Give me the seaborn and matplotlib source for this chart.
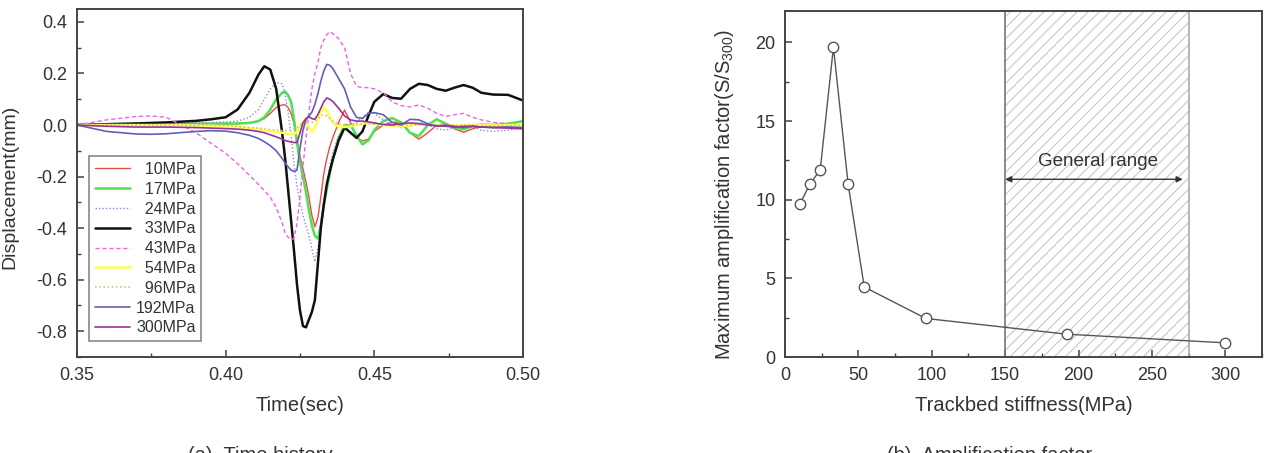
import numpy as np
import pandas as pd
import matplotlib
matplotlib.use("Agg")
import matplotlib.pyplot as plt
from matplotlib.ticker import MultipleLocator, FormatStrFormatter
import seaborn as sns

# ---------------- data: (a) time history ----------------
time_s = [0.350, 0.360, 0.370, 0.375, 0.380, 0.390, 0.395, 0.400,
          0.404, 0.408, 0.411, 0.413, 0.415, 0.417, 0.419,
          0.420, 0.421, 0.422, 0.423, 0.424, 0.425, 0.426, 0.427, 0.428,
          0.429, 0.430, 0.431, 0.432, 0.433, 0.434, 0.435, 0.436,
          0.438, 0.440, 0.442, 0.444, 0.446, 0.448, 0.450,
          0.453, 0.456, 0.459, 0.462, 0.465, 0.468, 0.471, 0.474, 0.477,
          0.480, 0.483, 0.486, 0.490, 0.495, 0.500]

d10 = [0.0, 0.0, 0.0, 0.0, 0.0, 0.002, 0.003, 0.004,
       0.005, 0.008, 0.015, 0.025, 0.045, 0.068, 0.078,
       0.078, 0.068, 0.045, 0.005, -0.055, -0.12, -0.17, -0.22, -0.28,
       -0.35, -0.395, -0.36, -0.28, -0.19, -0.13, -0.085, -0.05,
       0.01, 0.058, 0.01, -0.05, -0.062, -0.055, -0.025,
       0.0, 0.01, 0.012, -0.03, -0.055, -0.03, 0.0, 0.005, -0.015,
       -0.028, -0.015, -0.005, -0.005, -0.008, -0.01]
d17 = [0.003, 0.003, 0.004, 0.004, 0.004, 0.005, 0.005, 0.006,
       0.006, 0.008, 0.015, 0.03, 0.06, 0.1, 0.125,
       0.13, 0.115, 0.09, 0.02, -0.07, -0.145, -0.2, -0.26, -0.33,
       -0.39, -0.43, -0.44, -0.39, -0.31, -0.25, -0.19, -0.135,
       -0.05, 0.0, 0.0, -0.04, -0.075, -0.06, -0.02,
       0.015, 0.027, 0.01, -0.03, -0.043, 0.0, 0.022, 0.005, -0.01,
       -0.017, -0.005, 0.002, 0.0, 0.005, 0.015]
d24 = [0.0, 0.0, 0.002, 0.003, 0.005, 0.008, 0.01, 0.012,
       0.015, 0.03, 0.06, 0.1, 0.14, 0.165, 0.16,
       0.12, 0.05, -0.04, -0.15, -0.24, -0.3, -0.35, -0.39, -0.43,
       -0.48, -0.53, -0.48, -0.38, -0.3, -0.23, -0.16, -0.11,
       -0.04, -0.02, 0.0, 0.01, 0.03, 0.05, 0.045,
       0.02, 0.0, -0.01, -0.005, 0.01, 0.0, -0.015, -0.02, -0.01,
       0.0, -0.005, -0.02, -0.025, -0.02, -0.01]
d33 = [0.0, 0.003, 0.006, 0.008, 0.010, 0.016, 0.022, 0.030,
       0.060, 0.125, 0.195, 0.228, 0.215, 0.140, -0.030,
       -0.130, -0.250, -0.370, -0.490, -0.620, -0.720, -0.780, -0.785, -0.755,
       -0.725, -0.680, -0.540, -0.400, -0.310, -0.230, -0.180, -0.135,
       -0.060, -0.010, -0.030, -0.050, -0.025, 0.035, 0.090,
       0.120, 0.105, 0.102, 0.140, 0.160, 0.155, 0.140, 0.133, 0.145,
       0.155, 0.145, 0.125, 0.118, 0.117, 0.095]
d43 = [0.0, 0.02, 0.033, 0.035, 0.03, -0.03, -0.07, -0.11,
       -0.15, -0.195, -0.23, -0.255, -0.28, -0.32, -0.38,
       -0.42, -0.435, -0.445, -0.44, -0.38, -0.28, -0.16, -0.05, 0.05,
       0.14, 0.2, 0.24, 0.3, 0.33, 0.35, 0.362, 0.355,
       0.335, 0.3, 0.2, 0.15, 0.145, 0.145, 0.14,
       0.125, 0.09, 0.075, 0.07, 0.078, 0.065, 0.045, 0.033, 0.04,
       0.045, 0.03, 0.02, 0.01, 0.005, 0.0]
d54 = [0.0, 0.0, 0.0, 0.0, 0.0, -0.002, -0.003, -0.005,
       -0.008, -0.012, -0.016, -0.02, -0.023, -0.026, -0.03,
       -0.032, -0.034, -0.036, -0.035, -0.025, -0.005, 0.015, 0.01, -0.01,
       -0.025, -0.01, 0.02, 0.05, 0.068, 0.055, 0.03, 0.01,
       -0.008, -0.008, -0.005, 0.0, 0.005, 0.008, 0.005,
       0.0, -0.003, -0.005, -0.002, 0.002, 0.003, 0.0, -0.003, -0.002,
       0.0, 0.002, 0.0, -0.002, 0.0, 0.0]
d96 = [0.0, 0.0, 0.0, 0.0, 0.0, 0.0, 0.0, -0.002,
       -0.005, -0.01, -0.012, -0.015, -0.018, -0.02, -0.022,
       -0.022, -0.02, -0.018, -0.015, -0.01, 0.0, 0.01, 0.015, 0.012,
       0.01, 0.015, 0.025, 0.035, 0.04, 0.035, 0.025, 0.015,
       0.005, 0.0, 0.0, 0.002, 0.004, 0.004, 0.002,
       0.0, -0.002, -0.003, 0.0, 0.002, 0.002, 0.0, -0.002, -0.002,
       0.0, 0.0, -0.002, -0.003, -0.002, 0.0]
d192 = [0.0, -0.025, -0.035, -0.036, -0.034, -0.025, -0.022, -0.024,
        -0.03, -0.04, -0.052, -0.065, -0.08, -0.1, -0.13,
        -0.148, -0.162, -0.175, -0.18, -0.175, -0.09, -0.02, 0.02, 0.035,
        0.05, 0.08, 0.12, 0.17, 0.21, 0.235, 0.232, 0.22,
        0.18, 0.14, 0.07, 0.03, 0.025, 0.045, 0.048,
        0.04, 0.01, 0.0, 0.022, 0.02, 0.005, -0.005, 0.0, -0.005,
        -0.01, -0.005, -0.008, -0.01, -0.008, -0.01]
d300 = [0.0, -0.005, -0.008, -0.008, -0.008, -0.01, -0.012, -0.014,
        -0.016, -0.02, -0.025, -0.03, -0.038, -0.046, -0.055,
        -0.06, -0.063, -0.066, -0.068, -0.068, -0.03, 0.008, 0.025, 0.032,
        0.025, 0.022, 0.04, 0.065, 0.09, 0.105, 0.1, 0.092,
        0.065, 0.035, 0.02, 0.015, 0.015, 0.012, 0.008,
        0.002, 0.0, 0.005, 0.008, 0.005, 0.0, -0.003, -0.005, -0.008,
        -0.005, -0.005, -0.008, -0.01, -0.012, -0.015]

series_labels = ["10MPa", "17MPa", "24MPa", "33MPa", "43MPa",
                 "54MPa", "96MPa", "192MPa", "300MPa"]
series_values = [d10, d17, d24, d33, d43, d54, d96, d192, d300]

# ---------------- data: (b) amplification factor ----------------
stiffness = [10, 17, 24, 33, 43, 54, 96, 192, 300]
amp_factor = [9.7, 11.0, 11.9, 19.7, 11.0, 4.45, 2.45, 1.45, 0.9]
range_lo, range_hi = 150, 275

# ---------------- styles ----------------
styles = [
    dict(color="#f04848", lw=1.0, ls="-"),
    dict(color="#50e050", lw=1.8, ls="-"),
    dict(color="#8a8ae0", lw=1.0, ls=(0, (1, 1.5))),
    dict(color="#111111", lw=1.8, ls="-"),
    dict(color="#f060f0", lw=1.0, ls=(0, (3, 2))),
    dict(color="#ffff50", lw=1.8, ls="-"),
    dict(color="#c8c890", lw=1.2, ls=(0, (1, 1.5))),
    dict(color="#6060b8", lw=1.2, ls="-"),
    dict(color="#993399", lw=1.2, ls="-"),
]

sns.set_theme(style="ticks")
plt.rcParams["font.family"] = ["Liberation Sans", "DejaVu Sans"]
plt.rcParams["mathtext.fontset"] = "custom"
plt.rcParams["mathtext.rm"] = "Liberation Sans"
plt.rcParams["hatch.linewidth"] = 0.8
plt.rcParams["hatch.color"] = "#c8c8c8"

fig = plt.figure(figsize=(12.73, 4.53), dpi=100)
ax1 = fig.add_axes([77 / 1273, 96 / 453, 446 / 1273, 348 / 453])
ax2 = fig.add_axes([785 / 1273, 96 / 453, 477 / 1273, 346 / 453])

txt_color = "#333333"
spine_color = "#444444"

# right-align legend labels by padding with figure spaces
maxlen = max(len(s) for s in series_labels)
for lab, vals, st in zip(series_labels, series_values, styles):
    df = pd.DataFrame({"t": time_s, "d": vals})
    padded = "\u2007" * (maxlen - len(lab)) + lab
    sns.lineplot(data=df, x="t", y="d", ax=ax1, color=st["color"],
                 linewidth=st["lw"], linestyle=st["ls"], label=padded,
                 estimator=None, sort=False)

ax1.set_xlim(0.35, 0.50)
ax1.set_ylim(-0.9, 0.45)
ax1.xaxis.set_major_locator(MultipleLocator(0.05))
ax1.xaxis.set_minor_locator(MultipleLocator(0.025))
ax1.yaxis.set_major_locator(MultipleLocator(0.2))
ax1.yaxis.set_minor_locator(MultipleLocator(0.1))
ax1.xaxis.set_major_formatter(FormatStrFormatter("%.2f"))
ax1.yaxis.set_major_formatter(FormatStrFormatter("%.1f"))
ax1.set_xlabel("Time(sec)", fontsize=14.5, color=txt_color, labelpad=9)
ax1.set_ylabel("Displacement(mm)", fontsize=14, color=txt_color)
ax1.yaxis.set_label_coords(-0.132, 0.49)

leg = ax1.legend(loc="lower left", bbox_to_anchor=(0.027, 0.046),
                 borderaxespad=0, fontsize=11.5, frameon=True, fancybox=False,
                 framealpha=1, edgecolor="#888888", handlelength=2.2,
                 labelspacing=0.30, borderpad=0.35, handletextpad=0.4)
leg.get_frame().set_linewidth(1.2)
for t in leg.get_texts():
    t.set_color(txt_color)

# ---- panel (b) ----
ax2.axvspan(range_lo, range_hi, facecolor="none", edgecolor="#c8c8c8",
            hatch="///", linewidth=0, zorder=0)
ax2.axvline(range_lo, color="#777777", lw=1.2, zorder=1)
ax2.axvline(range_hi, color="#aaaaaa", lw=1.2, zorder=1)
sns.lineplot(x=stiffness, y=amp_factor, ax=ax2, color="#555555", linewidth=1.0,
             marker="o", markersize=7.5, markerfacecolor="white",
             markeredgecolor="#555555", markeredgewidth=1.0,
             estimator=None, sort=False, zorder=3)
ax2.annotate("", xy=(range_lo, 11.3), xytext=(271, 11.3),
             arrowprops=dict(arrowstyle="<|-|>", color="#333333", lw=1.0,
                             mutation_scale=9, shrinkA=0, shrinkB=0))
ax2.text(213, 12.4, "General range", ha="center", va="center",
         fontsize=13.5, color=txt_color)
ax2.set_xlim(0, 325)
ax2.set_ylim(0, 22)
ax2.xaxis.set_major_locator(MultipleLocator(50))
ax2.xaxis.set_minor_locator(MultipleLocator(25))
ax2.yaxis.set_major_locator(MultipleLocator(5))
ax2.yaxis.set_minor_locator(MultipleLocator(2.5))
ax2.set_xlabel("Trackbed stiffness(MPa)", fontsize=14.5, color=txt_color,
               labelpad=9)
ax2.set_ylabel(r"Maximum amplification factor(S/S$_{\mathregular{300}}$)",
               fontsize=14.5, color=txt_color)
ax2.yaxis.set_label_coords(-0.103, 0.47)

for ax in (ax1, ax2):
    for sp in ax.spines.values():
        sp.set_visible(True)
        sp.set_color(spine_color)
        sp.set_linewidth(1.4)
    ax.tick_params(which="both", direction="in", colors=spine_color,
                   labelcolor=txt_color, labelsize=13, top=False, right=False)
    ax.tick_params(which="major", length=5, width=1.1, pad=7)
    ax.tick_params(which="minor", length=3, width=1.0)

fig.text(260 / 1273, 1 - 446 / 453, "(a)  Time history", ha="center",
         va="top", fontsize=14.5, color=txt_color)
fig.text(990 / 1273, 1 - 446 / 453, "(b)  Amplification factor", ha="center",
         va="top", fontsize=14.5, color=txt_color)

fig.savefig("out.png", dpi=100, facecolor="white")
